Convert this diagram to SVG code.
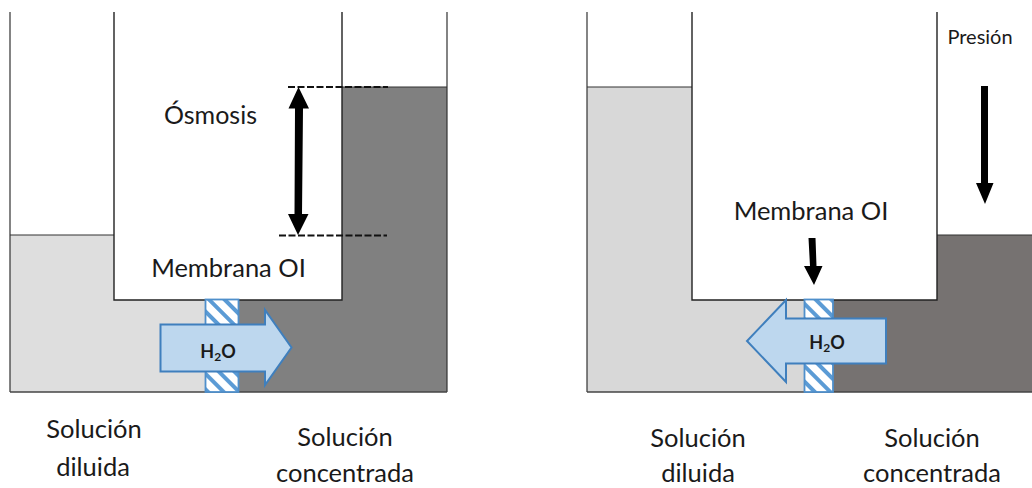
<svg xmlns="http://www.w3.org/2000/svg" width="1032" height="488" viewBox="0 0 1032 488">
<defs>
<style>
.wall{fill:none;stroke:#333;stroke-width:1.2}
.base{fill:none;stroke:#444;stroke-width:1.6}
.inner{fill:#fff;stroke:#222;stroke-width:1.4}
.memb{fill:url(#hatch);stroke:#4f8fcb;stroke-width:1.8}
.flow{fill:#bdd7ee;stroke:#3f7fbd;stroke-width:2}
.dash{fill:none;stroke:#111;stroke-width:1.8;stroke-dasharray:7 2.5}
.big{fill:#000}
text{font-family:Lato,"Open Sans","Liberation Sans",sans-serif;fill:#1a1a1a;text-anchor:middle}
.lab{font-size:25.500px}
.h2o{font-size:18px;font-weight:700}
.sub{font-size:12px;font-weight:700}
</style>
<pattern id="hatch" width="11" height="11" patternUnits="userSpaceOnUse" patternTransform="rotate(-45)">
<rect width="11" height="11" fill="#fff"/>
<rect width="4" height="11" fill="#5b9bd5"/>
</pattern>
</defs>
<g id="left-vessel">
<rect x="10" y="235" width="230" height="157" fill="#dedede"/>
<rect x="239" y="87" width="208" height="305" fill="#808080"/>
<path class="wall" d="M10 235H114"/>
<path class="wall" d="M342 87H447"/>
<path class="wall" d="M10 12V392M447 12V392"/>
<path class="inner" d="M114 12V300H342V12"/>
<path class="base" d="M10 392H447"/>
</g>
<g id="left-membrane"><rect class="memb" x="205.500" y="299.500" width="33" height="92.500"/></g>
<g id="left-flow">
<path class="flow" d="M160.500 324.500H265V310L291.500 347.500L265 385V371.500H160.500Z"/>
<text class="h2o" x="218" y="358">H<tspan class="sub" dy="3">2</tspan><tspan dy="-3">O</tspan></text>
</g>
<g id="left-labels">
<text class="lab" x="210.500" y="124" style="font-size:25px">Ósmosis</text>
<text class="lab" x="228.500" y="277">Membrana OI</text>
<text class="lab" x="94" y="438">Solución</text>
<text class="lab" x="93" y="476">diluida</text>
<text class="lab" x="345" y="446">Solución</text>
<text class="lab" x="345" y="482">concentrada</text>
</g>
<g id="right-vessel">
<rect x="587" y="87" width="246" height="305" fill="#d8d8d8"/>
<rect x="833" y="235" width="199" height="157" fill="#767271"/>
<path class="wall" d="M587 87H692"/>
<path class="wall" d="M937 235H1032"/>
<path class="wall" d="M587 12V392"/>
<path class="inner" d="M692 12V300H937V12"/>
<path class="base" d="M587 392H1032"/>
</g>
<g id="right-membrane"><rect class="memb" x="804.500" y="299.500" width="28.500" height="92.500"/></g>
<g id="right-flow">
<path class="flow" d="M886 318.500H786V300L747 341L786 382V363.500H886Z"/>
<text class="h2o" x="827" y="349">H<tspan class="sub" dy="3">2</tspan><tspan dy="-3">O</tspan></text>
</g>
<g id="right-labels">
<text x="980" y="44" style="font-size:20px">Presión</text>
<text class="lab" x="811" y="220">Membrana OI</text>
<text class="lab" x="698" y="447">Solución</text>
<text class="lab" x="698" y="482">diluida</text>
<text class="lab" x="932" y="447">Solución</text>
<text class="lab" x="932" y="482">concentrada</text>
</g>
<g id="connectors">
<path class="dash" d="M288 87H388"/>
<path class="dash" d="M279 235.500H387"/>
<path class="big" d="M298.500 87L309 108.500H303L302 214H308.500L298 235L288 214H294.500L295 108.500H288.500Z"/>
<path class="big" d="M981 86H988V183H993.500L985 204L976 183H981Z"/>
<path class="big" d="M808.500 238H815.500L816.500 266H822.500L814 285L804 266H810Z"/>
</g>
</svg>
